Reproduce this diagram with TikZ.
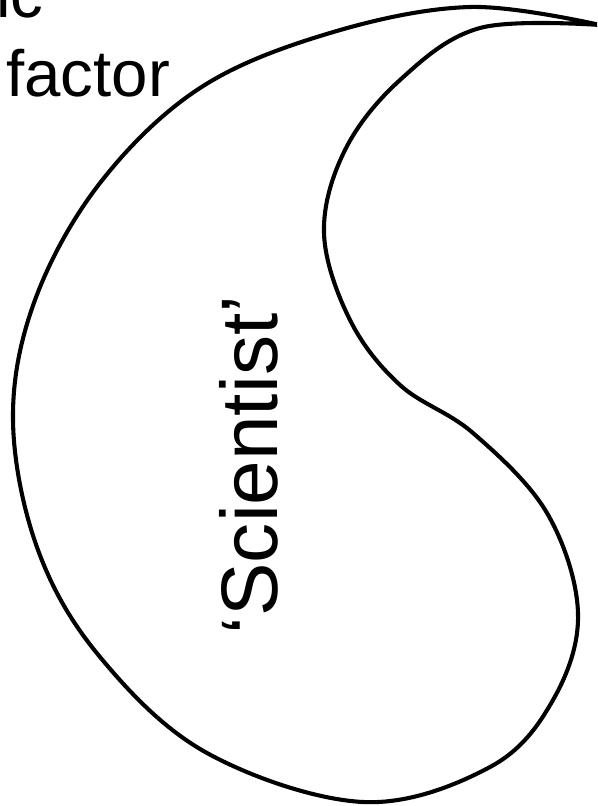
\documentclass[tikz,border=0pt]{standalone}
\usepackage{fontspec}
\setsansfont{Liberation Sans}
\usetikzlibrary{positioning}

\begin{document}
\begin{tikzpicture}[
  x=0.025cm, y=-0.025cm,
  font=\sffamily,
  word/.style    = {inner sep=0pt, font=\sffamily\fontsize{46.5}{56}\selectfont},
  bigword/.style = {inner sep=0pt, font=\sffamily\fontsize{57}{64}\selectfont},
  outline/.style = {line width=2.9pt, line join=round},
]

%% Frame
\useasboundingbox (0,0) rectangle (597,806);
\clip (0,0) rectangle (597,806);

%% Top-left label
\node[word, anchor=base west] (ic)     at (-4,18) {ic};
\node[word, anchor=base west] (factor) at (6,97)  {factor};

%% Teardrop outline
\draw[outline] plot[smooth, tension=0.6] coordinates {
  (600,25) (470,7) (330,33) (200,88) (100,183) (35,300) (13,420)
  (38,550) (100,657) (207,753) (363,802) (490,767) (553,700)
  (578,613) (547,513) (473,433) (400,385) (350,320) (324,233)
  (345,150) (400,80) (480,28) (600,25)};

%% Label inside
\node[bigword, rotate=90, anchor=base] (sci) at (277,465) {‘Scientist’};

\end{tikzpicture}
\end{document}
